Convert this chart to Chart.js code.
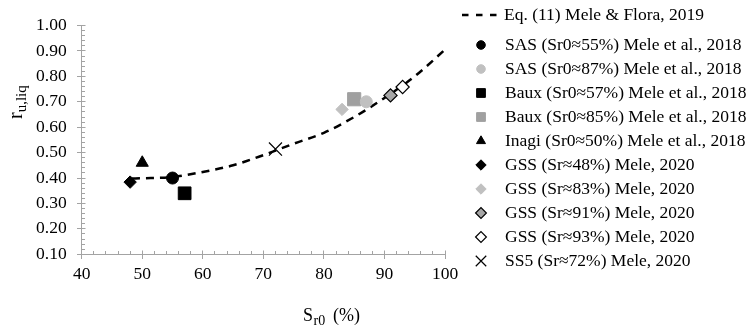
<!DOCTYPE html>
<html>
<head>
<meta charset="utf-8">
<script src="https://cdn.jsdelivr.net/npm/chart.js@4.4.1/dist/chart.umd.min.js"></script>
<style>
  html, body { margin: 0; padding: 0; background: #fff; }
  #wrap { width: 756px; height: 326px; }
</style>
</head>
<body>
<div id="wrap"><canvas id="chart" width="756" height="326"></canvas></div>
<script>
/* =========================
   DATA
========================== */
const eqLabel = "Eq. (11) Mele & Flora, 2019";
const eqX = [48.3, 50, 55, 60, 65, 70, 75, 80, 85, 90, 95, 100];
const eqY = [0.398, 0.399, 0.404, 0.424, 0.45, 0.49, 0.535, 0.578, 0.64, 0.715, 0.80, 0.905];

const seriesLabels = [
    "SAS (Sr0\u224855%) Mele et al., 2018",
    "SAS (Sr0\u224887%) Mele et al., 2018",
    "Baux (Sr0\u224857%) Mele et al., 2018",
    "Baux (Sr0\u224885%) Mele et al., 2018",
    "Inagi (Sr0\u224850%) Mele et al., 2018",
    "GSS (Sr\u224848%) Mele, 2020",
    "GSS (Sr\u224883%) Mele, 2020",
    "GSS (Sr\u224891%) Mele, 2020",
    "GSS (Sr\u224893%) Mele, 2020",
    "SS5 (Sr\u224872%) Mele, 2020"
];
const seriesX = [55, 87, 57, 85, 50, 48, 83, 91, 93, 72];
const seriesY = [0.40, 0.70, 0.34, 0.71, 0.46, 0.384, 0.67, 0.725, 0.758, 0.514];

const xTickValues = [40, 50, 60, 70, 80, 90, 100];
const yTickValues = [0.1, 0.2, 0.3, 0.4, 0.5, 0.6, 0.7, 0.8, 0.9, 1.0];

/* =========================
   STYLES
========================== */
const FONT = '"Liberation Serif", "Times New Roman", serif';
const AXIS_COLOR = "#a3a3a3";

const seriesStyles = [
    { style: "circle",   r: 6,   lr: 4.3, bg: "#000",    border: "#000", bw: 1 },
    { style: "circle",   r: 6,   lr: 4.3, bg: "#c0c0c0", border: "#c0c0c0", bw: 1 },
    { style: "rect",     r: 9,   lr: 6.2, bg: "#000",    border: "#000", bw: 1 },
    { style: "rect",     r: 9.3, lr: 6.2, bg: "#a0a0a0", border: "#a0a0a0", bw: 1 },
    { style: "triangle", r: 7,   lr: 5.2, bg: "#000",    border: "#000", bw: 1 },
    { style: "rectRot",  r: 6.2, lr: 5.2, bg: "#000",    border: "#000", bw: 1 },
    { style: "rectRot",  r: 6.2, lr: 5.2, bg: "#c0c0c0", border: "#c0c0c0", bw: 1 },
    { style: "rectRot",  r: 6.6, lr: 5.4, bg: "#a6a6a6", border: "#000", bw: 1.2 },
    { style: "rectRot",  r: 6.6, lr: 5.4, bg: "#fff",    border: "#000", bw: 1.2 },
    { style: "crossRot", r: 9.2, lr: 7.4, bg: "#000",    border: "#000", bw: 1.2 }
];

Chart.defaults.font.family = FONT;
Chart.defaults.color = "#000";

/* =========================
   PLUGINS: minor ticks, axis titles, legend
========================== */
const axisDecor = {
    id: "axisDecor",
    afterDraw(chart) {
        const { ctx, chartArea } = chart;
        const xs = chart.scales.x, ys = chart.scales.y;
        const left = Math.round(chartArea.left - 0.5) + 0.5;
        const bottom = Math.round(chartArea.bottom - 0.5) + 0.5;
        ctx.save();
        ctx.strokeStyle = AXIS_COLOR;
        ctx.lineWidth = 1;
        ctx.beginPath();
        for (let k = 0; k <= 30; k++) {
            const px = Math.round(xs.getPixelForValue(40 + k * 2) - 0.5) + 0.5;
            if (k % 5 === 0) { ctx.moveTo(px, bottom - 4); ctx.lineTo(px, bottom + 4.5); }
            else { ctx.moveTo(px, bottom); ctx.lineTo(px, bottom - 3.5); }
        }
        for (let k = 0; k <= 45; k++) {
            const py = Math.round(ys.getPixelForValue(0.1 + k * 0.02) - 0.5) + 0.5;
            if (k % 5 === 0) { ctx.moveTo(left - 4.5, py); ctx.lineTo(left + 4, py); }
            else { ctx.moveTo(left, py); ctx.lineTo(left + 3.5, py); }
        }
        ctx.stroke();

        // axis titles
        ctx.fillStyle = "#000";
        ctx.textAlign = "left";
        ctx.textBaseline = "alphabetic";
        ctx.font = "18px " + FONT;
        ctx.fillText("S", 303, 321);
        ctx.font = "14px " + FONT;
        ctx.fillText("r0", 313.5, 324.5);
        ctx.font = "18px " + FONT;
        ctx.fillText("(%)", 333, 321);

        ctx.translate(22, 119);
        ctx.rotate(-Math.PI / 2);
        ctx.font = "20px " + FONT;
        ctx.fillText("r", 0, 0);
        const w = ctx.measureText("r").width;
        ctx.font = "15px " + FONT;
        ctx.fillText("u,liq", w, 4);
        ctx.restore();
    }
};

const sideLegend = {
    id: "sideLegend",
    afterDraw(chart) {
        const ctx = chart.ctx;
        const markX = 481, textX = 505, eqRowY = 15, firstRowY = 45, rowGap = 24;
        ctx.save();
        ctx.font = "17.5px " + FONT;
        ctx.textAlign = "left";
        ctx.textBaseline = "middle";

        ctx.strokeStyle = "#000";
        ctx.lineWidth = 2.5;
        ctx.setLineDash([6.5, 7.5]);
        ctx.beginPath();
        ctx.moveTo(462, eqRowY);
        ctx.lineTo(504, eqRowY);
        ctx.stroke();
        ctx.setLineDash([]);
        ctx.fillStyle = "#000";
        ctx.fillText(eqLabel, 504, eqRowY);

        seriesLabels.forEach((label, i) => {
            const st = seriesStyles[i];
            const y = firstRowY + i * rowGap;
            ctx.fillStyle = st.bg;
            ctx.strokeStyle = st.border;
            ctx.lineWidth = st.bw;
            Chart.helpers.drawPoint(ctx, { pointStyle: st.style, radius: st.lr, borderWidth: st.bw, rotation: 0 }, markX, y);
            ctx.fillStyle = "#000";
            ctx.fillText(label, textX, y);
        });
        ctx.restore();
    }
};

/* =========================
   CHART
========================== */
const datasets = seriesLabels.map((label, i) => {
    const st = seriesStyles[i];
    return {
        label: label,
        data: [{ x: seriesX[i], y: seriesY[i] }],
        pointStyle: st.style,
        pointRadius: st.r,
        pointHoverRadius: st.r,
        pointBackgroundColor: st.bg,
        pointBorderColor: st.border,
        pointBorderWidth: st.bw,
        order: 0
    };
});
datasets.push({
    label: eqLabel,
    data: eqX.map((x, i) => ({ x: x, y: eqY[i] })),
    showLine: true,
    borderColor: "#000",
    borderWidth: 2.5,
    borderDash: [8, 6],
    pointRadius: 0,
    pointHoverRadius: 0,
    cubicInterpolationMode: "monotone",
    order: 1
});

new Chart(document.getElementById("chart"), {
    type: "scatter",
    data: { datasets: datasets },
    options: {
        responsive: false,
        animation: false,
        devicePixelRatio: 1,
        layout: { padding: { left: 0, right: 311, top: 19, bottom: 0 } },
        plugins: { legend: { display: false }, tooltip: { enabled: false } },
        scales: {
            x: {
                type: "linear",
                min: 40,
                max: 100,
                afterBuildTicks: (s) => { s.ticks = xTickValues.map(v => ({ value: v })); },
                afterFit: (s) => { s.height = 71.7; },
                ticks: { font: { size: 17.5 }, color: "#000", padding: 10, callback: (v) => String(v) },
                grid: { display: false, drawTicks: false },
                border: { display: true, color: AXIS_COLOR, width: 1 }
            },
            y: {
                type: "linear",
                min: 0.1,
                max: 1.0,
                afterBuildTicks: (s) => { s.ticks = yTickValues.map(v => ({ value: v })); },
                afterFit: (s) => { s.width = 81.7; },
                ticks: { font: { size: 17.5 }, color: "#000", padding: 15, callback: (v) => Number(v).toFixed(2) },
                grid: { display: false, drawTicks: false },
                border: { display: true, color: AXIS_COLOR, width: 1 }
            }
        }
    },
    plugins: [axisDecor, sideLegend]
});
</script>
</body>
</html>
